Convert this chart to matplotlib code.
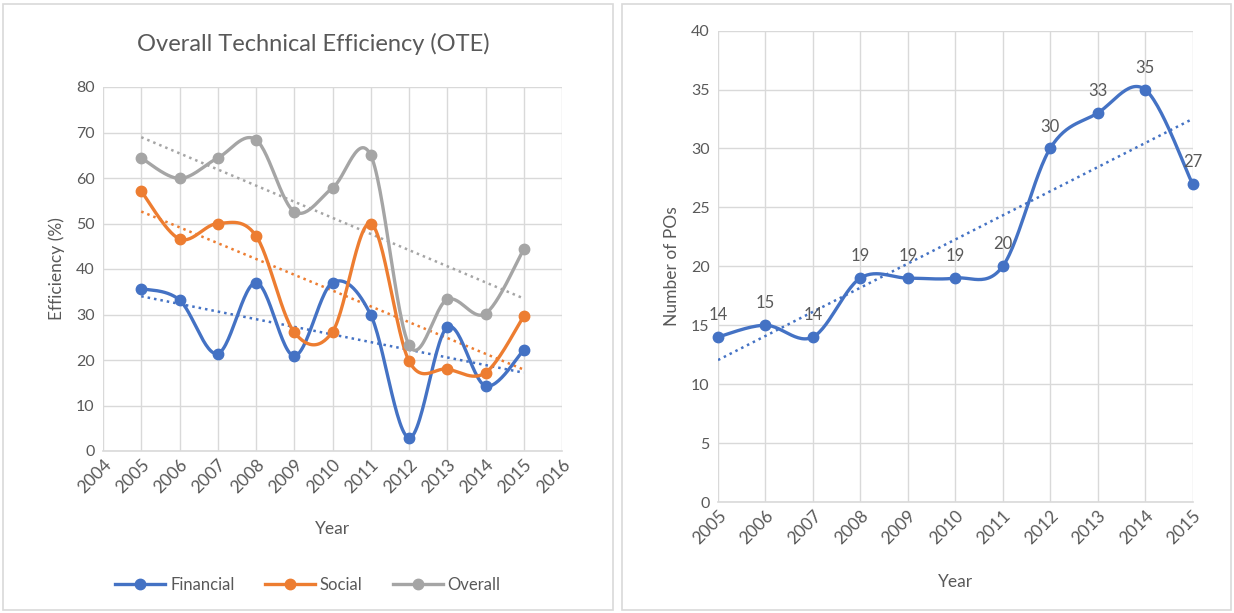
import numpy as np
import matplotlib
matplotlib.use("Agg")
import matplotlib.pyplot as plt
from matplotlib.patches import Rectangle
from matplotlib.lines import Line2D

plt.rcParams['font.family'] = ['Lato', 'DejaVu Sans']

# ---------------- data ----------------
years = [2005, 2006, 2007, 2008, 2009, 2010, 2011, 2012, 2013, 2014, 2015]
financial = [35.7, 33.2, 21.4, 37.0, 20.9, 37.0, 29.9, 2.9, 27.2, 14.3, 22.2]
social = [57.1, 46.6, 50.0, 47.3, 26.1, 26.2, 50.0, 19.8, 18.0, 17.2, 29.6]
overall = [64.4, 59.9, 64.4, 68.4, 52.6, 57.8, 65.0, 23.3, 33.3, 30.2, 44.4]
num_pos = [14, 15, 14, 19, 19, 19, 20, 30, 33, 35, 27]

left_title = "Overall Technical Efficiency (OTE)"
left_ylabel = "Efficiency (%)"
right_ylabel = "Number of POs"
xlabel = "Year"
left_xticks = list(range(2004, 2017))
left_yticks = list(range(0, 81, 10))
right_yticks = list(range(0, 41, 5))

BLUE = "#4472C4"
ORANGE = "#ED7D31"
GREY = "#A5A5A5"
GRID = "#D9D9D9"
TXT = "#595959"


def smooth(x, y, n=30):
    pts = np.column_stack([np.asarray(x, float), np.asarray(y, float)])
    P = np.vstack([pts[0], pts, pts[-1]])
    out = []
    t = np.linspace(0, 1, n)[:, None]
    for i in range(len(pts) - 1):
        p0, p1, p2, p3 = P[i], P[i + 1], P[i + 2], P[i + 3]
        c1 = p1 + (p2 - p0) / 6.0
        c2 = p2 - (p3 - p1) / 6.0
        seg = (1 - t) ** 3 * p1 + 3 * (1 - t) ** 2 * t * c1 + 3 * (1 - t) * t ** 2 * c2 + t ** 3 * p2
        out.append(seg if i == 0 else seg[1:])
    s = np.vstack(out)
    return s[:, 0], s[:, 1]


def style_axes(ax):
    ax.grid(True, color=GRID, linewidth=1.0)
    ax.set_axisbelow(True)
    for side in ["top", "right", "left"]:
        ax.spines[side].set_visible(False)
    ax.spines["bottom"].set_color(GRID)
    ax.spines["bottom"].set_linewidth(1.2)
    ax.tick_params(length=0, colors=TXT, pad=6)
    ax.tick_params(axis="y", labelsize=11.5)
    ax.tick_params(axis="x", labelsize=12.5, pad=4)


fig = plt.figure(figsize=(12.34, 6.13), dpi=100)

# panel borders
fig.patches.append(Rectangle((3 / 1234, 3 / 613), 610 / 1234, 606 / 613, transform=fig.transFigure,
                             fill=False, edgecolor=GRID, linewidth=1.2))
fig.patches.append(Rectangle((622 / 1234, 3 / 613), 609 / 1234, 606 / 613, transform=fig.transFigure,
                             fill=False, edgecolor=GRID, linewidth=1.2))

# ---------------- left chart ----------------
ax1 = fig.add_axes([103 / 1234, 1 - 451 / 613, 459 / 1234, 364 / 613])
style_axes(ax1)
series = [("Financial", financial, BLUE), ("Social", social, ORANGE), ("Overall", overall, GREY)]
handles = []
for name, vals, col in series:
    sx, sy = smooth(years, vals)
    ax1.plot(sx, sy, color=col, linewidth=2.4, solid_capstyle="round", zorder=3, clip_on=False)
    ax1.plot(years, vals, "o", color=col, markersize=7.5, zorder=4, clip_on=False)
    k, b = np.polyfit(years, vals, 1)
    ax1.plot([years[0], years[-1]], [k * years[0] + b, k * years[-1] + b], color=col,
             linestyle=(0, (1, 1.6)), linewidth=1.8, zorder=2)
    handles.append(Line2D([0], [0], color=col, linewidth=2.4, marker="o", markersize=7.5, label=name))

ax1.set_xlim(2004, 2016)
ax1.set_ylim(0, 80)
ax1.set_xticks(left_xticks)
ax1.set_xticklabels([str(v) for v in left_xticks], rotation=45, ha="right", rotation_mode="anchor")
ax1.set_yticks(left_yticks)
ax1.set_xlabel(xlabel, color=TXT, fontsize=12.5, labelpad=18)
ax1.set_ylabel(left_ylabel, color=TXT, fontsize=12.5, labelpad=8)
fig.text(313 / 1234, 1 - 44 / 613, left_title, ha="center", va="center", fontsize=17, color=TXT)
fig.legend(handles=handles, loc="center", bbox_to_anchor=(308 / 1234, 1 - 585 / 613), ncol=3,
           frameon=False, fontsize=12, labelcolor=TXT, handlelength=3.0, columnspacing=1.8,
           handletextpad=0.3)

# ---------------- right chart ----------------
ax2 = fig.add_axes([718 / 1234, 1 - 502 / 613, 474.5 / 1234, 471.4 / 613])
style_axes(ax2)
sx, sy = smooth(years, num_pos)
ax2.plot(sx, sy, color=BLUE, linewidth=2.4, zorder=3, clip_on=False)
ax2.plot(years, num_pos, "o", color=BLUE, markersize=7.5, zorder=4, clip_on=False)
k, b = np.polyfit(years, num_pos, 1)
ax2.plot([years[0], years[-1]], [k * years[0] + b, k * years[-1] + b], color=BLUE,
         linestyle=(0, (1, 1.6)), linewidth=1.8, zorder=2)
for x, v in zip(years, num_pos):
    ax2.annotate(str(v), (x, v), xytext=(0, 10), textcoords="offset points", ha="center",
                 va="bottom", fontsize=12, color=TXT, zorder=5, annotation_clip=False)
ax2.set_xlim(2005, 2015)
ax2.set_ylim(0, 40)
ax2.set_xticks(years)
ax2.set_xticklabels([str(v) for v in years], rotation=45, ha="right", rotation_mode="anchor")
ax2.set_yticks(right_yticks)
ax2.set_xlabel(xlabel, color=TXT, fontsize=12.5, labelpad=19)
ax2.set_ylabel(right_ylabel, color=TXT, fontsize=12.5, labelpad=8)

fig.savefig("out.png", dpi=100)
